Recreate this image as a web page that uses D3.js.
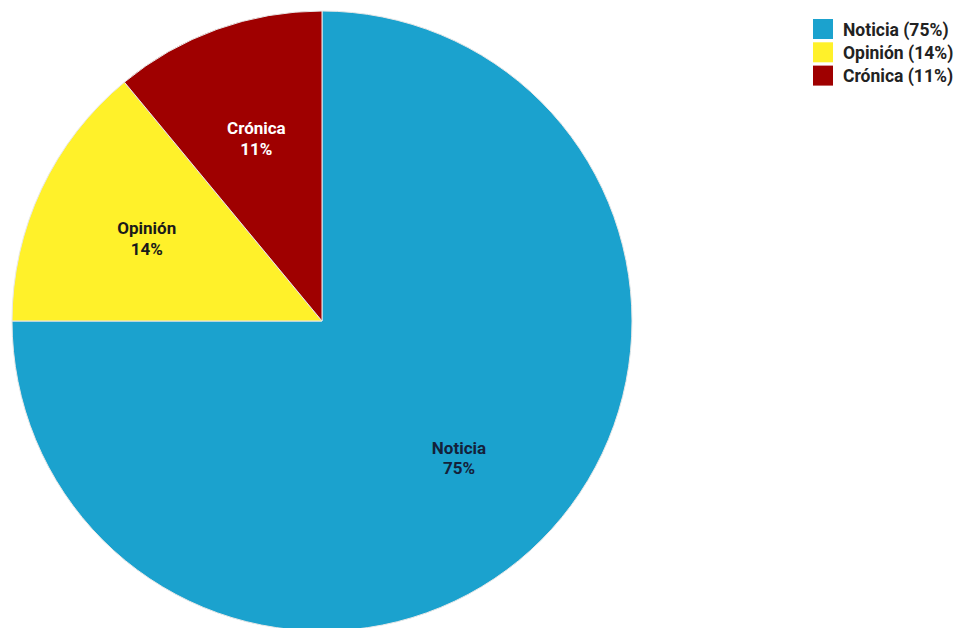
<!DOCTYPE html>
<html>
<head>
<meta charset="utf-8">
<script src="https://cdn.jsdelivr.net/npm/d3@7"></script>
<style>
  html, body { margin: 0; padding: 0; background: #fff; }
  svg { display: block; font-family: Roboto, "Noto Sans", sans-serif; }
</style>
</head>
<body>
<svg id="chart" width="961" height="628"></svg>
<script>
// Genre shares of the published pieces
const categories = ["Noticia", "Opinión", "Crónica"];
const values = [75, 14, 11];
const colors = ["#1BA2CE", "#FFF12A", "#9F0000"];
const labelColors = ["#14213a", "#1a1a1a", "#ffffff"];

const data = categories.map((c, i) => ({ name: c, value: values[i], color: colors[i], text: labelColors[i] }));

const svg = d3.select("#chart");
const cx = 322, cy = 321, R = 310;

const pie = d3.pie().value(d => d.value).sort(null);
const arc = d3.arc().innerRadius(0).outerRadius(R);
const labelArc = d3.arc().innerRadius(R * 0.625).outerRadius(R * 0.625);

const g = svg.append("g").attr("transform", `translate(${cx},${cy})`);
const arcs = pie(data);

g.selectAll("path.slice")
  .data(arcs)
  .join("path")
  .attr("class", "slice")
  .attr("d", arc)
  .attr("fill", d => d.data.color)
  .attr("stroke", "#e8e8e8")
  .attr("stroke-width", 1);

const labels = g.selectAll("text.lbl")
  .data(arcs)
  .join("text")
  .attr("class", "lbl")
  .attr("transform", d => `translate(${labelArc.centroid(d)})`)
  .attr("text-anchor", "middle")
  .attr("font-size", 17)
  .attr("font-weight", "bold")
  .attr("fill", d => d.data.text);
labels.append("tspan").attr("x", 0).attr("dy", "-0.25em").text(d => d.data.name);
labels.append("tspan").attr("x", 0).attr("dy", "1.22em").text(d => d.data.value + "%");

// Legend
const legend = svg.append("g").attr("transform", "translate(813,19)");
const rows = legend.selectAll("g")
  .data(data)
  .join("g")
  .attr("transform", (d, i) => `translate(0,${i * 23.3})`);
rows.append("rect")
  .attr("width", 20).attr("height", 20)
  .attr("fill", d => d.color);
rows.append("text")
  .attr("x", 30).attr("y", 16.5)
  .attr("font-size", 17.5)
  .attr("font-weight", "bold")
  .attr("fill", "#222")
  .text(d => `${d.name} (${d.value}%)`);
</script>
</body>
</html>
